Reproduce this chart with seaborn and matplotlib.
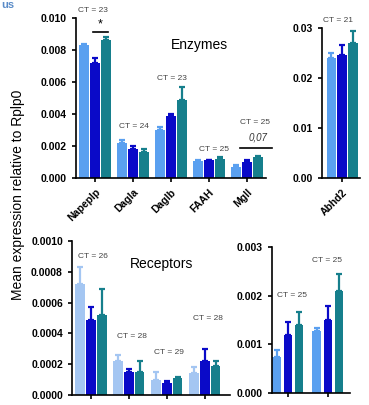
import numpy as np
import pandas as pd
import matplotlib
matplotlib.use("Agg")
import matplotlib.pyplot as plt
import seaborn as sns

# ── Data (means and upper SEM) ───────────────────────────────────────────────
GROUPS = ["g1", "g2", "g3"]

ENZ_GENES = ["Napeplp", "Dagla", "Daglb", "FAAH", "Mgll"]
ENZ_MEAN = [[0.0083, 0.0022, 0.0030, 0.00105, 0.0007],
            [0.0072, 0.0018, 0.0039, 0.0011, 0.00102],
            [0.0086, 0.0016, 0.0049, 0.0012, 0.0013]]
ENZ_ERR = [[0.0001, 0.0002, 0.0002, 0.0001, 0.0001],
           [0.0003, 0.0002, 0.0001, 0.00005, 0.0001],
           [0.0002, 0.0002, 0.0008, 0.0001, 0.0001]]
ENZ_CT = ["CT = 23", "CT = 24", "CT = 23", "CT = 25", "CT = 25"]

ABHD_GENES = ["Abhd2"]
ABHD_MEAN = [[0.0240], [0.0247], [0.0270]]
ABHD_ERR = [[0.0010], [0.0020], [0.0025]]
ABHD_CT = ["CT = 21"]

REC_GENES = ["r1", "r2", "r3", "r4"]
REC_MEAN = [[0.00072, 0.00022, 0.00010, 0.00014],
            [0.00049, 0.00015, 0.00008, 0.00022],
            [0.00052, 0.00015, 0.00011, 0.00019]]
REC_ERR = [[0.00011, 0.00004, 0.00005, 0.00004],
           [0.00008, 0.00002, 0.00001, 0.00008],
           [0.00017, 0.00007, 0.00001, 0.00003]]
REC_CT = ["CT = 26", "CT = 28", "CT = 29", "CT = 28"]

REC2_GENES = ["s1", "s2"]
REC2_MEAN = [[0.00075, 0.00128], [0.0012, 0.0015], [0.0014, 0.0021]]
REC2_ERR = [[0.00013, 0.00006], [0.00027, 0.0003], [0.00027, 0.00035]]
REC2_CT = ["CT = 25", "CT = 25"]

# ── Colours ──────────────────────────────────────────────────────────────────
LIGHT = "#5AA0F0"
PALE = "#A4C6F2"
DARK = "#0A0AC8"
TEAL = "#167F8C"
PAL_MAIN = [LIGHT, DARK, TEAL]
PAL_REC = [PALE, DARK, TEAL]
TXT = "#444444"

plt.rcParams.update({
    "font.family": ["Liberation Sans", "DejaVu Sans"],
    "axes.linewidth": 1.2,
    "xtick.major.width": 1.2,
    "ytick.major.width": 1.2,
    "xtick.major.size": 3,
    "ytick.major.size": 3,
})


def long_df(genes, means):
    rows = []
    for g, vals in zip(GROUPS, means):
        for gene, v in zip(genes, vals):
            rows.append({"gene": gene, "group": g, "value": v})
    return pd.DataFrame(rows)


def panel(ax, genes, means, errs, pal, gap=0.1):
    df = long_df(genes, means)
    sns.barplot(data=df, x="gene", y="value", hue="group", palette=pal,
                width=0.85, gap=gap, errorbar=None, saturation=1,
                legend=False, ax=ax)
    n = len(genes)
    # upper-only SEM bars in the bar colour
    for h, (col, err) in enumerate(zip(pal, errs)):
        for i in range(n):
            p = ax.patches[h * n + i]
            x = p.get_x() + p.get_width() / 2
            y = p.get_height()
            ax.errorbar(x, y, yerr=[[0], [err[i]]], color=col, elinewidth=1.6,
                        capsize=2, capthick=1.6, zorder=3, clip_on=False)
    sns.despine(ax=ax)
    ax.set_xlabel("")
    ax.set_ylabel("")
    ax.tick_params(labelsize=7.5)


fig = plt.figure(figsize=(3.69, 4.05), dpi=100)

# ── Enzymes ──────────────────────────────────────────────────────────────────
ax1 = fig.add_axes([0.206, 0.5605, 0.515, 0.395])
panel(ax1, ENZ_GENES, ENZ_MEAN, ENZ_ERR, PAL_MAIN)
ax1.set_xlim(-0.5, 4.5)
ax1.set_ylim(0, 0.010)
yt1 = np.arange(0, 0.0101, 0.002)
ax1.set_yticks(yt1)
ax1.set_yticklabels([f"{v:.3f}" for v in yt1], fontweight="bold", fontsize=7.5)
ax1.set_xticks(range(len(ENZ_GENES)))
ax1.set_xticklabels(ENZ_GENES, rotation=45, ha="right", rotation_mode="anchor",
                    fontweight="bold", fontsize=7.5)
ct_pos = [(-0.05, 0.01044), (1.03, 0.00319), (2.03, 0.00625),
          (3.13, 0.00181), (4.2, 0.00344)]
for (x, y), t in zip(ct_pos, ENZ_CT):
    ax1.text(x, y, t, fontsize=6, color=TXT, ha="center", va="center",
             clip_on=False)
ax1.text(2.76, 0.0083, "Enzymes", fontsize=10, ha="center", va="center")
ax1.plot([-0.05, 0.33], [0.00913, 0.00913], color="black", lw=1.2)
ax1.text(0.14, 0.0096, "*", fontsize=9, ha="center", va="center")
ax1.plot([3.82, 4.66], [0.00188, 0.00188], color="black", lw=1.2, clip_on=False)
ax1.text(4.29, 0.00256, "0,07", fontsize=7, style="italic", ha="center",
         va="center", color="#333333", clip_on=False)

# ── Abhd2 ────────────────────────────────────────────────────────────────────
ax2 = fig.add_axes([0.8726, 0.5605, 0.103, 0.370])
panel(ax2, ABHD_GENES, ABHD_MEAN, ABHD_ERR, PAL_MAIN)
ax2.set_xlim(-0.53, 0.47)
ax2.set_ylim(0, 0.03)
ax2.set_yticks([0, 0.01, 0.02, 0.03])
ax2.set_yticklabels(["0.00", "0.01", "0.02", "0.03"], fontweight="bold",
                    fontsize=7.5)
ax2.set_xticks([0])
ax2.set_xticklabels(ABHD_GENES, rotation=45, ha="right", rotation_mode="anchor",
                    fontweight="bold", fontsize=7.5)
ax2.text(-0.1, 0.0316, ABHD_CT[0], fontsize=6, color=TXT, ha="center",
         va="center", clip_on=False)

# ── Receptors ────────────────────────────────────────────────────────────────
ax3 = fig.add_axes([0.195, 0.0247, 0.428, 0.380])
panel(ax3, REC_GENES, REC_MEAN, REC_ERR, PAL_REC)
ax3.set_xlim(-0.5, 3.66)
ax3.set_ylim(0, 0.0010)
yt3 = np.arange(0, 0.00101, 0.0002)
ax3.set_yticks(yt3)
ax3.set_yticklabels([f"{v:.4f}" for v in yt3], fontweight="bold", fontsize=7.5)
ax3.set_xticks(range(len(REC_GENES)))
ax3.set_xticklabels([])
rec_pos = [(0.05, 0.000903), (1.08, 0.000383), (2.05, 0.000273), (3.08, 0.0005)]
for (x, y), t in zip(rec_pos, REC_CT):
    ax3.text(x, y, t, fontsize=6, color=TXT, ha="center", va="center",
             clip_on=False)
ax3.text(1.87, 0.00085, "Receptors", fontsize=10, ha="center", va="center")

ax4 = fig.add_axes([0.737, 0.0296, 0.211, 0.360])
panel(ax4, REC2_GENES, REC2_MEAN, REC2_ERR, PAL_MAIN, gap=0.25)
ax4.set_xlim(-0.4, 1.55)
ax4.set_ylim(0, 0.003)
ax4.set_yticks([0, 0.001, 0.002, 0.003])
ax4.set_yticklabels(["0.000", "0.001", "0.002", "0.003"], fontweight="bold",
                    fontsize=7.5)
ax4.set_xticks(range(len(REC2_GENES)))
ax4.set_xticklabels([])
rec2_pos = [(0.1, 0.00201), (0.98, 0.00273)]
for (x, y), t in zip(rec2_pos, REC2_CT):
    ax4.text(x, y, t, fontsize=6, color=TXT, ha="center", va="center",
             clip_on=False)

# ── Shared label and title fragment ──────────────────────────────────────────
fig.text(0.048, 0.52, "Mean expression relative to Rplp0", rotation=90,
         fontsize=10, ha="center", va="center")
fig.text(0.003, 0.999, "us", fontsize=8, fontweight="bold",
         color="#5B8CC8", ha="left", va="top")

fig.savefig("out.png", dpi=100)
